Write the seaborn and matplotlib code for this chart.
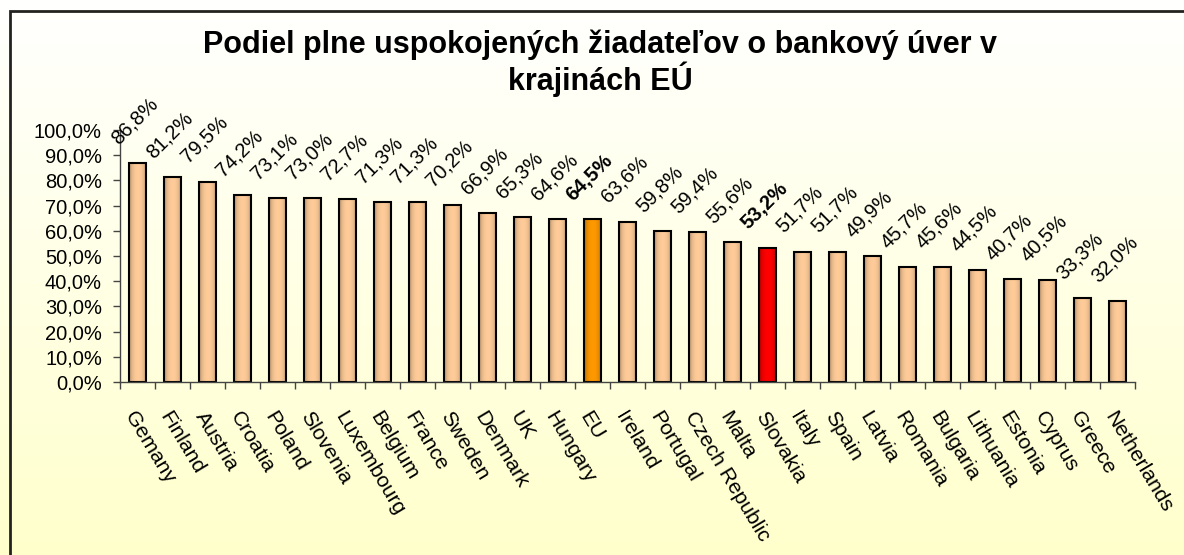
import numpy as np
import pandas as pd
import seaborn as sns
import matplotlib.pyplot as plt
from matplotlib.patches import Rectangle
from matplotlib.ticker import FuncFormatter
from matplotlib.transforms import ScaledTranslation

countries = ["Gemany", "Finland", "Austria", "Croatia", "Poland", "Slovenia",
             "Luxembourg", "Belgium", "France", "Sweden", "Denmark", "UK",
             "Hungary", "EU", "Ireland", "Portugal", "Czech Republic", "Malta",
             "Slovakia", "Italy", "Spain", "Latvia", "Romania", "Bulgaria",
             "Lithuania", "Estonia", "Cyprus", "Greece", "Netherlands"]
values = [86.8, 81.2, 79.5, 74.2, 73.1, 73.0, 72.7, 71.3, 71.3, 70.2, 66.9,
          65.3, 64.6, 64.5, 63.6, 59.8, 59.4, 55.6, 53.2, 51.7, 51.7, 49.9,
          45.7, 45.6, 44.5, 40.7, 40.5, 33.3, 32.0]
highlight = {"EU": "#FF9900", "Slovakia": "#FF0000"}
base_color = "#FFCC99"

df = pd.DataFrame({"country": countries, "value": values})
colors = [highlight.get(c, base_color) for c in countries]

sns.set_style("white")
plt.rcParams["font.family"] = ["Liberation Sans", "DejaVu Sans"]
plt.rcParams["text.color"] = "black"
fs = 14.5

fig = plt.figure(figsize=(11.84, 5.55), dpi=100)

# background gradient (white at top -> pale yellow at bottom)
bg = fig.add_axes([0, 0, 1, 1], zorder=-10)
grad = np.linspace(0, 1, 256)[:, None]
top = np.array([1.0, 1.0, 1.0])
bot = np.array([1.0, 1.0, 0.80])
img = top[None, None, :] * (1 - grad[:, :, None]) + bot[None, None, :] * grad[:, :, None]
bg.imshow(img, aspect="auto", extent=[0, 1, 0, 1])
bg.set_axis_off()
fig.add_artist(Rectangle((10 / 1184, -0.05), 1.2, 1.05 - 11 / 555,
                         transform=fig.transFigure, fill=False,
                         edgecolor="#222222", lw=2))

ax = fig.add_axes([120 / 1184, 1 - 382 / 555, (1135 - 120) / 1184, 252 / 555])
ax.set_facecolor("none")

sns.barplot(data=df, x="country", y="value", hue="country", palette=colors,
            legend=False, width=0.49, edgecolor="black", linewidth=1.5,
            saturation=1, ax=ax)

# cylinder-like shading on the bars
xs = np.linspace(-1, 1, 64)
shade = 0.62 + 0.38 * (1 - xs ** 2) ** 0.6
for patch, col in zip(ax.patches, colors):
    rgb = np.array(plt.matplotlib.colors.to_rgb(col))
    strip = (rgb[None, :] * shade[:, None])[None, :, :]
    x0, y0 = patch.get_x(), patch.get_y()
    w, h = patch.get_width(), patch.get_height()
    im = ax.imshow(strip, aspect="auto", extent=[x0, x0 + w, y0, y0 + h],
                   zorder=patch.get_zorder() - 0.1, interpolation="bilinear")
    im.set_clip_path(patch)
    patch.set_facecolor("none")
    patch.set_zorder(patch.get_zorder() + 0.2)

for i, (c, v) in enumerate(zip(countries, values)):
    ax.annotate(f"{v:.1f}%".replace(".", ","), (i, v), xytext=(-14, 13),
                textcoords="offset points", rotation=45, rotation_mode="anchor",
                ha="left", va="baseline", fontsize=fs, color="black",
                fontweight="bold" if c in highlight else "normal")

ax.set_xlim(-0.5, len(countries) - 0.5)
ax.set_ylim(0, 100)
ax.set_yticks(np.arange(0, 101, 10))
ax.yaxis.set_major_formatter(FuncFormatter(lambda y, _: f"{y:.1f}%".replace(".", ",")))
ax.tick_params(axis="y", left=True, length=5, width=1, color="#444444",
               labelsize=fs, labelcolor="black", pad=8)

ax.set_xticks(range(len(countries)))
ax.set_xticks(np.arange(-0.5, len(countries), 1), minor=True)
ax.set_xticklabels(countries, rotation=-59, rotation_mode="anchor",
                   ha="left", va="top", fontsize=15.2, color="black")
shift = ScaledTranslation(6 / 100, 0, fig.dpi_scale_trans)
for lbl in ax.get_xticklabels():
    lbl.set_transform(lbl.get_transform() + shift)
ax.tick_params(axis="x", which="major", length=0, pad=19)
ax.tick_params(axis="x", which="minor", bottom=True, length=5, width=1,
               color="#444444")
ax.set_xlabel("")
ax.set_ylabel("")
for s in ["top", "right"]:
    ax.spines[s].set_visible(False)
for s in ["left", "bottom"]:
    ax.spines[s].set_color("#444444")
    ax.spines[s].set_linewidth(1)

fig.text(0.507, 1 - 63 / 555,
         "Podiel plne uspokojených žiadateľov o bankový úver v\nkrajinách EÚ",
         ha="center", va="center", fontsize=22, fontweight="bold",
         color="black", linespacing=1.05)

fig.savefig("out.png", dpi=100)
